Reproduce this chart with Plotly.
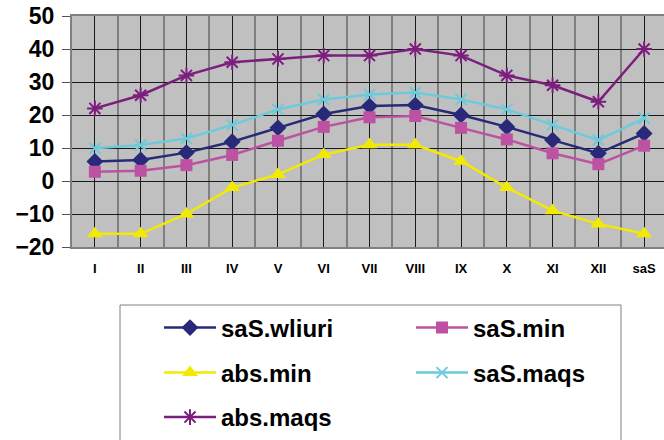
import plotly.graph_objects as go

# Monthly temperature statistics (°C), last column is the annual value
months = ["I", "II", "III", "IV", "V", "VI", "VII", "VIII", "IX", "X", "XI", "XII", "saS"]
sas_wliuri = [5.9, 6.4, 8.6, 11.9, 16.1, 20.3, 22.7, 23.0, 20.0, 16.4, 12.4, 8.4, 14.4]
sas_min = [2.8, 3.1, 4.8, 7.9, 12.2, 16.4, 19.3, 19.7, 16.1, 12.6, 8.4, 5.1, 10.7]
abs_min = [-16, -16, -10, -2, 2, 8, 11, 11, 6, -2, -9, -13, -16]
sas_maqs = [9.9, 10.9, 12.9, 17.0, 21.7, 24.7, 26.2, 26.8, 24.7, 21.7, 17.0, 12.4, 19.0]
abs_maqs = [22, 26, 32, 36, 37, 38, 38, 40, 38, 32, 29, 24, 40]

xpos = list(range(len(months)))
FONT = "Liberation Sans, Arial, sans-serif"

W, H = 664, 440
L, T, R, B = 72, 16, 664, 247   # plot area in pixels


def px(x):
    return (x - L) / (R - L)


def py(y):
    return (B - y) / (B - T)


series = [
    # name, values, color, symbol, size, line-only symbol, legend slot (x px, y px)
    ("saS.wliuri", sas_wliuri, "#29297a", "diamond", 13, False, (159, 328)),
    ("saS.min", sas_min, "#bd52a2", "square", 12, False, (411, 328)),
    ("abs.min", abs_min, "#f2ea00", "triangle-up", 14, False, (159, 373)),
    ("saS.maqs", sas_maqs, "#6bcbdc", "x-thin", 11, True, (411, 373)),
    ("abs.maqs", abs_maqs, "#7b1f7d", "asterisk", 13, True, (159, 418)),
]

fig = go.Figure()
legends = {}
for i, (name, vals, color, symbol, size, thin, (lx, ly)) in enumerate(series):
    key = "legend" if i == 0 else f"legend{i + 1}"
    marker = dict(symbol=symbol, size=size, color=color)
    if thin:
        marker["line"] = dict(color=color, width=2)
    else:
        marker["line"] = dict(width=0)
    fig.add_trace(go.Scatter(
        x=xpos, y=vals, name=name, mode="lines+markers",
        line=dict(color=color, width=2.5), marker=marker,
        legend=key, showlegend=True,
    ))
    legends[key] = dict(
        x=px(lx), y=py(ly), xanchor="left", yanchor="middle",
        bgcolor="rgba(0,0,0,0)", borderwidth=0, itemwidth=52,
        font=dict(family=FONT, size=24, color="black", weight="bold"),
    )

# legend frame
fig.add_shape(type="rect", xref="paper", yref="paper",
              x0=px(120), x1=px(621), y0=py(305), y1=py(470),
              line=dict(color="#808080", width=1), fillcolor="white", layer="below")

fig.update_layout(
    width=W, height=H,
    margin=dict(l=L, r=W - R, t=T, b=H - B, pad=0),
    paper_bgcolor="white", plot_bgcolor="#c0c0c0",
    font=dict(family=FONT, color="black"),
    **legends,
)

fig.update_xaxes(
    range=[-0.5, 12.5 - 3 / 45.75],
    tickmode="array", tickvals=xpos, ticktext=months,
    tickfont=dict(family=FONT, size=13, color="black", weight="bold"),
    showgrid=True, gridcolor="#1a1a1a", gridwidth=1,
    ticks="",
    minor=dict(tickmode="array", tickvals=[i + 0.5 for i in range(-1, 13)],
               showgrid=True, gridcolor="#7f7f7f", gridwidth=2, ticks=""),
    showline=True, linecolor="#808080", linewidth=2, mirror=True,
    zeroline=False, ticklabelstandoff=8,
)
fig.update_yaxes(
    range=[-20, 50], dtick=10, tick0=0,
    tickfont=dict(family=FONT, size=23, color="black", weight="bold"),
    showgrid=True, gridcolor="#1a1a1a", gridwidth=1,
    ticks="outside", ticklen=8, tickcolor="#555555", tickwidth=1,
    showline=True, linecolor="#808080", linewidth=2,
    zeroline=False, ticklabelstandoff=3,
)

fig.write_html("out.html")
